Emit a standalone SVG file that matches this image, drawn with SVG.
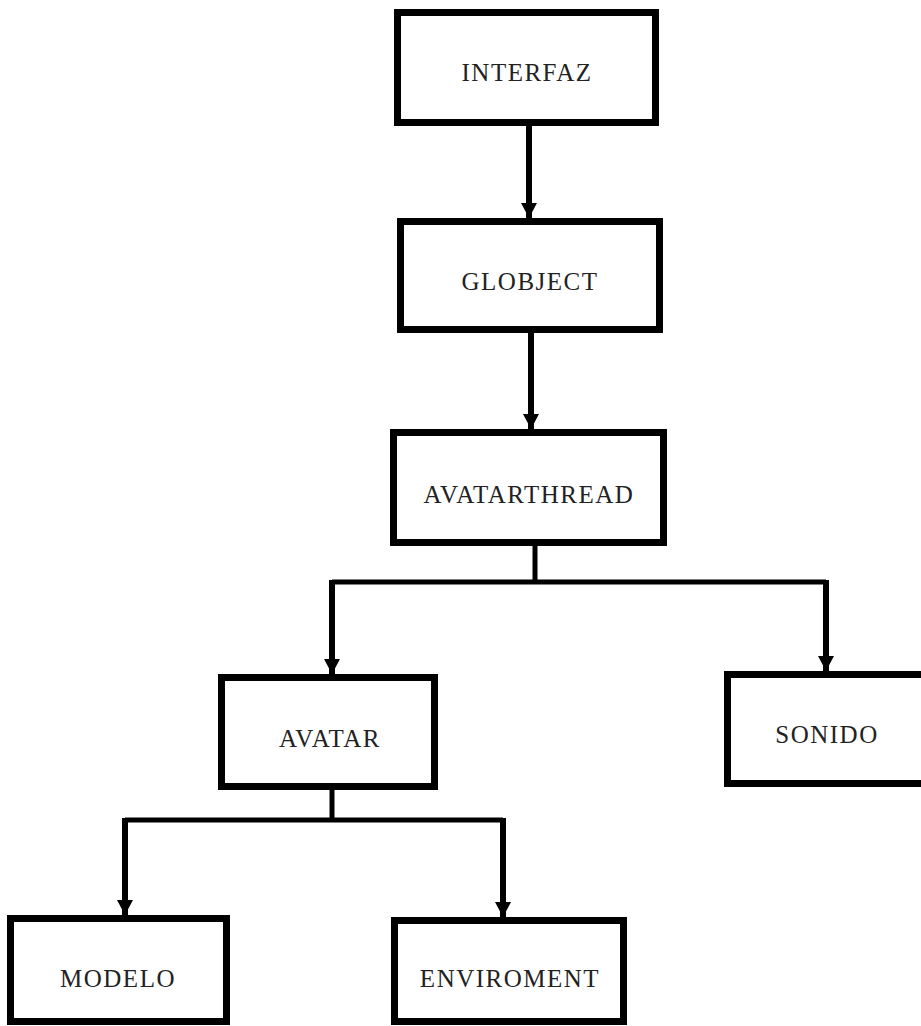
<svg xmlns="http://www.w3.org/2000/svg" width="921" height="1026" viewBox="0 0 921 1026">
<style>
.box{fill:#fff;stroke:#000;stroke-width:7;stroke-linejoin:miter}
.lbl{font-family:"Liberation Serif","Times New Roman",serif;font-size:25px;letter-spacing:1.5px;fill:#222;text-anchor:middle}
.arr{fill:none;stroke:#000;stroke-width:6}
.ln{fill:none;stroke:#000;stroke-width:5}
</style>
<defs>
<marker id="ah" markerUnits="userSpaceOnUse" markerWidth="16" markerHeight="16" refX="15" refY="8" orient="auto">
<path d="M0,0 L15,8 L0,16 z" fill="#000"/>
</marker>
</defs>
<rect width="921" height="1026" fill="#fff"/>
<g id="connectors">
<line class="arr" x1="529" y1="126" x2="529" y2="218" marker-end="url(#ah)"/>
<line class="arr" x1="531" y1="333" x2="531" y2="429" marker-end="url(#ah)"/>
<polyline class="ln" points="535,546 535,582"/>
<polyline class="ln" points="332,582 826,582"/>
<line class="arr" x1="332" y1="580" x2="332" y2="674" marker-end="url(#ah)"/>
<line class="arr" x1="826" y1="580" x2="826" y2="671" marker-end="url(#ah)"/>
<polyline class="ln" points="332,790 332,820"/>
<polyline class="ln" points="125,820 503,820"/>
<line class="arr" x1="125" y1="818" x2="125" y2="915" marker-end="url(#ah)"/>
<line class="arr" x1="503" y1="818" x2="503" y2="917" marker-end="url(#ah)"/>
</g>
<g id="interfaz">
<rect class="box" x="397.5" y="12.5" width="258" height="110"/>
<text class="lbl" x="527" y="81">INTERFAZ</text>
</g>
<g id="globject">
<rect class="box" x="400.5" y="221.5" width="259" height="108"/>
<text class="lbl" x="530" y="290">GLOBJECT</text>
</g>
<g id="avatarthread">
<rect class="box" x="393.5" y="432.5" width="270" height="110"/>
<text class="lbl" x="529" y="503">AVATARTHREAD</text>
</g>
<g id="avatar">
<rect class="box" x="221.5" y="677.5" width="213" height="109"/>
<text class="lbl" x="330" y="747">AVATAR</text>
</g>
<g id="sonido">
<rect class="box" x="727.5" y="674.5" width="220" height="109"/>
<text class="lbl" x="827" y="743">SONIDO</text>
</g>
<g id="modelo">
<rect class="box" x="10.5" y="918.5" width="216" height="103"/>
<text class="lbl" x="118" y="987">MODELO</text>
</g>
<g id="enviroment">
<rect class="box" x="394.5" y="920.5" width="229" height="101"/>
<text class="lbl" x="510" y="987">ENVIROMENT</text>
</g>
</svg>
